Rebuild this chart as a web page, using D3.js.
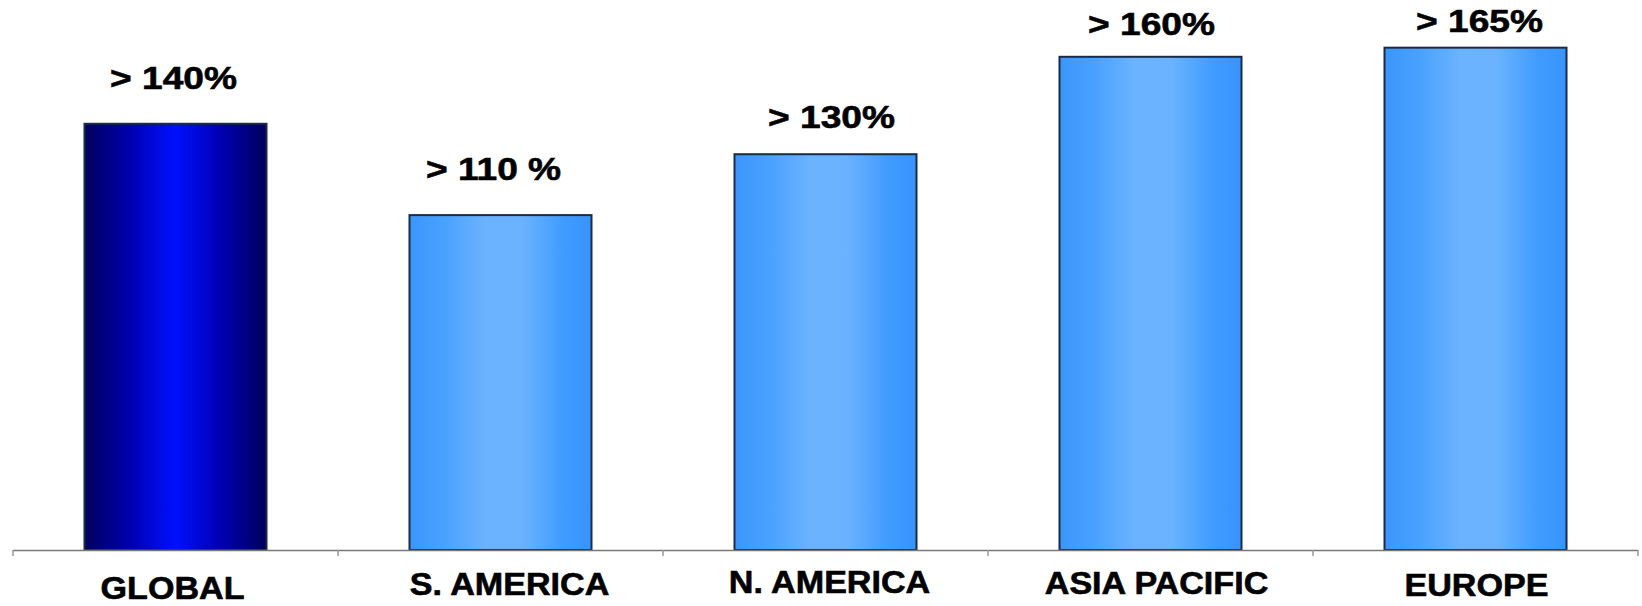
<!DOCTYPE html>
<html>
<head>
<meta charset="utf-8">
<script src="https://cdn.jsdelivr.net/npm/d3@7"></script>
<style>
  html, body { margin: 0; padding: 0; background: #fff; }
  svg { display: block; }
  text { font-family: "Liberation Sans", Arial, sans-serif; font-weight: bold; fill: #000; stroke: #000; stroke-width: 0.6px; }
</style>
</head>
<body>
<svg id="chart"></svg>
<script>
// data
const regions = ['GLOBAL', 'S. AMERICA', 'N. AMERICA', 'ASIA PACIFIC', 'EUROPE'];
const growth = [140, 110, 130, 162, 165];
const growthLabels = ['> 140%', '> 110 %', '> 130%', '> 160%', '> 165%'];

// hand-placed label nudges, as in the original slide
const valueGap = [35, 35, 26, 22, 16];
const valueDx = [-2, -7, 6, 1, 4];
const catDx = [-3, 9, 4, 6, 1];
const catBaseline = [599, 595, 593, 594, 596];

const width = 1642, height = 606;
const axisY = 550;

const svg = d3.select('#chart')
  .attr('width', width)
  .attr('height', height);

const defs = svg.append('defs');

const darkGrad = defs.append('linearGradient').attr('id', 'gradDark')
  .attr('x1', '0%').attr('x2', '100%').attr('y1', '0%').attr('y2', '0%');
[[0, '#00005c'], [0.25, '#0000b0'], [0.5, '#0010ff'], [0.75, '#0000b0'], [1, '#00005c']]
  .forEach(s => darkGrad.append('stop').attr('offset', s[0]).attr('stop-color', s[1]));

const lightGrad = defs.append('linearGradient').attr('id', 'gradLight')
  .attr('x1', '0%').attr('x2', '100%').attr('y1', '0%').attr('y2', '0%');
[[0, '#3a96fb'], [0.2, '#4aa2ff'], [0.42, '#6cb3ff'], [0.62, '#6ab2ff'], [0.85, '#3f9bff'], [1, '#3894fb']]
  .forEach(s => lightGrad.append('stop').attr('offset', s[0]).attr('stop-color', s[1]));

const x = d3.scaleBand()
  .domain(regions)
  .range([13, 1638])
  .paddingInner(0.44)
  .paddingOuter(0.22);

const y = d3.scaleLinear()
  .domain([0, 180])
  .range([axisY, 2]);

// bars
svg.selectAll('.bar')
  .data(growth)
  .enter().append('rect')
  .attr('class', 'bar')
  .attr('x', (d, i) => x(regions[i]))
  .attr('y', d => y(d))
  .attr('width', x.bandwidth())
  .attr('height', d => axisY - y(d))
  .attr('fill', (d, i) => i === 0 ? 'url(#gradDark)' : 'url(#gradLight)')
  .attr('stroke', '#1b2a45')
  .attr('stroke-width', 2);

// axis line with ticks between categories
const axis = svg.append('g');
axis.append('line')
  .attr('x1', x.range()[0]).attr('x2', x.range()[1])
  .attr('y1', axisY + 0.5).attr('y2', axisY + 0.5)
  .attr('stroke', '#777').attr('stroke-width', 1.5);

const boundaries = regions.map(r => x(r) - x.step() * x.paddingOuter());
boundaries.push(x.range()[1]);
axis.selectAll('.tick')
  .data(boundaries)
  .enter().append('line')
  .attr('x1', d => d).attr('x2', d => d)
  .attr('y1', axisY).attr('y2', axisY + 6)
  .attr('stroke', '#999').attr('stroke-width', 1.5);

// value labels
svg.selectAll('.val')
  .data(growth)
  .enter().append('text')
  .attr('class', 'val')
  .attr('text-anchor', 'middle')
  .attr('font-size', 32)
  .attr('transform', (d, i) =>
    `translate(${x(regions[i]) + x.bandwidth() / 2 + valueDx[i]},${y(d) - valueGap[i]}) scale(1.16,1)`)
  .text((d, i) => growthLabels[i]);

// category labels
svg.selectAll('.cat')
  .data(regions)
  .enter().append('text')
  .attr('class', 'cat')
  .attr('text-anchor', 'middle')
  .attr('font-size', 31)
  .attr('transform', (d, i) =>
    `translate(${x(d) + x.bandwidth() / 2 + catDx[i]},${catBaseline[i]}) scale(1.1,1)`)
  .text(d => d);
</script>
</body>
</html>
